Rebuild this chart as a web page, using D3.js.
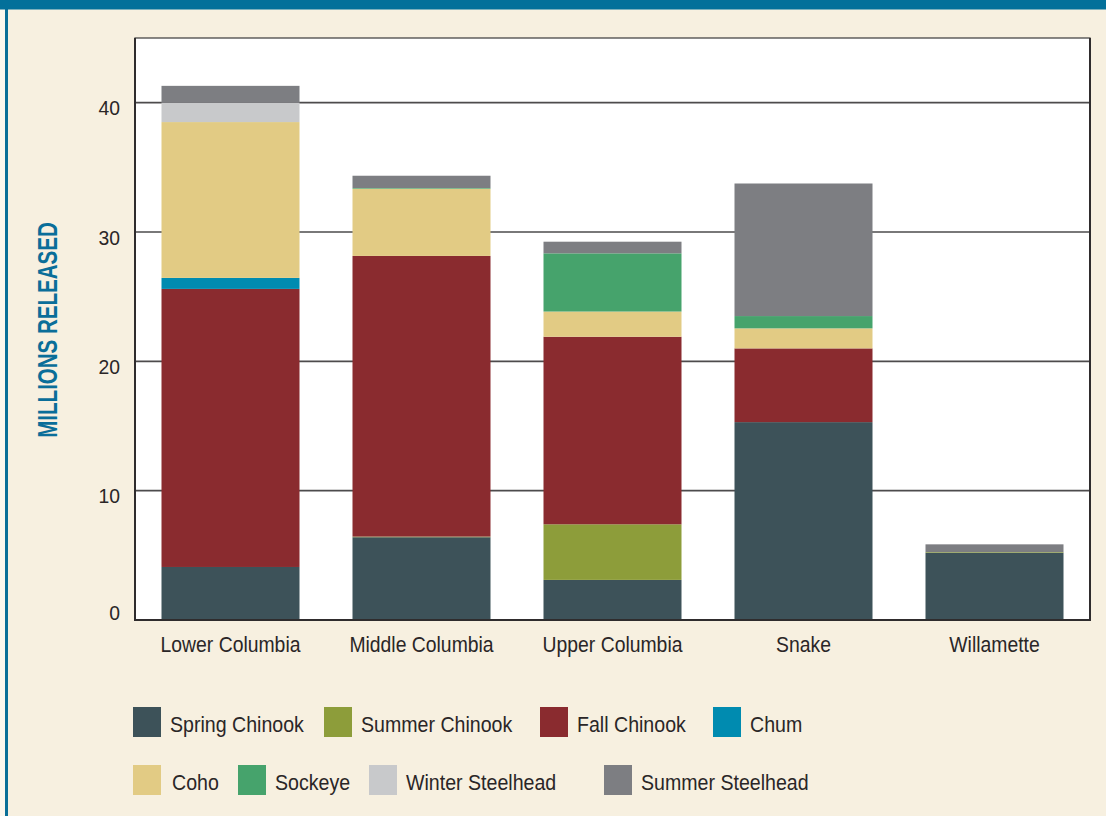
<!DOCTYPE html>
<html>
<head>
<meta charset="utf-8">
<script src="https://cdn.jsdelivr.net/npm/d3@7/dist/d3.min.js"></script>
<style>
  html, body { margin: 0; padding: 0; background: #f7f0e0; }
  svg { display: block; }
  text { font-family: "Liberation Sans", Arial, sans-serif; fill: #2a2627; }
</style>
</head>
<body>
<svg id="chart" width="1106" height="816"></svg>
<script>
// Hatchery releases by region, millions of fish
const regions = ["Lower Columbia", "Middle Columbia", "Upper Columbia", "Snake", "Willamette"];
const runs = ["Spring Chinook", "Summer Chinook", "Fall Chinook", "Chum", "Coho", "Sockeye", "Winter Steelhead", "Summer Steelhead"];
const springChinook   = [4.1, 6.4, 3.1, 15.3, 5.2];
const summerChinook   = [0, 0.05, 4.3, 0, 0.05];
const fallChinook     = [21.5, 21.7, 14.5, 5.7, 0];
const chum            = [0.85, 0, 0, 0, 0];
const coho            = [12.05, 5.2, 1.95, 1.55, 0];
const sockeye         = [0, 0.05, 4.5, 0.95, 0];
const winterSteelhead = [1.5, 0, 0, 0, 0];
const summerSteelhead = [1.3, 0.95, 0.9, 10.25, 0.6];
const tickValues = [0, 10, 20, 30, 40];

const runColors = ["#3d5259", "#8d9d3a", "#8a2b2f", "#008bb0", "#e2cb84", "#46a36c", "#c8c9cb", "#7d7e82"];
const seriesValues = [springChinook, summerChinook, fallChinook, chum, coho, sockeye, winterSteelhead, summerSteelhead];

// legend placement: two rows, [x of swatch, row]
const legendSlots = [[133, 0], [324, 0], [540, 0], [713, 0], [133, 1], [238, 1], [369, 1], [604, 1]];

const svg = d3.select("#chart");
const W = 1106, H = 816;

// squeeze a text node horizontally to imitate a condensed face
function condense(sel, factor) {
  sel.each(function () {
    const len = this.getComputedTextLength();
    d3.select(this)
      .attr("textLength", len * factor)
      .attr("lengthAdjust", "spacingAndGlyphs");
  });
}

// frame
svg.append("rect").attr("x", 0).attr("y", 0).attr("width", W).attr("height", H).attr("fill", "#f7f0e0");
svg.append("rect").attr("x", 0).attr("y", 0).attr("width", 5).attr("height", H).attr("fill", "#fbf7ee");
svg.append("rect").attr("x", 5).attr("y", 0).attr("width", 3).attr("height", H).attr("fill", "#0a6f98");
svg.append("rect").attr("x", 0).attr("y", 0).attr("width", W).attr("height", 9.5).attr("fill", "#03709a");

const plot = { left: 135, right: 1090, top: 38, bottom: 620 };

const x = d3.scaleBand()
  .domain(regions)
  .range([plot.left, plot.right])
  .paddingInner(0.2775)
  .paddingOuter(0.13875);

const y = d3.scaleLinear().domain([0, 45]).range([plot.bottom, plot.top]);

// white plotting field
svg.append("rect")
  .attr("x", plot.left).attr("y", plot.top)
  .attr("width", plot.right - plot.left).attr("height", plot.bottom - plot.top)
  .attr("fill", "#ffffff")
  .attr("stroke", "#3a3a3a").attr("stroke-width", 1.2);

// horizontal gridlines
svg.append("g")
  .selectAll("line")
  .data(tickValues.filter(v => v > 0))
  .join("line")
  .attr("x1", plot.left).attr("x2", plot.right)
  .attr("y1", d => y(d)).attr("y2", d => y(d))
  .attr("stroke", "#4d4b4c").attr("stroke-width", 1.6);

// stacked bars
const table = regions.map((r, i) => {
  const row = { region: r };
  runs.forEach((k, j) => { row[k] = seriesValues[j][i]; });
  return row;
});
const stacked = d3.stack().keys(runs)(table);

svg.append("g")
  .selectAll("g")
  .data(stacked)
  .join("g")
  .attr("fill", (d, i) => runColors[i])
  .selectAll("rect")
  .data(d => d)
  .join("rect")
  .attr("x", d => x(d.data.region))
  .attr("width", x.bandwidth())
  .attr("y", d => y(d[1]))
  .attr("height", d => Math.max(0, y(d[0]) - y(d[1])));

// axis lines on left, bottom, right
svg.append("line").attr("x1", plot.left).attr("x2", plot.left).attr("y1", plot.top).attr("y2", plot.bottom + 1)
  .attr("stroke", "#2f2c2d").attr("stroke-width", 2);
svg.append("line").attr("x1", plot.left).attr("x2", plot.right + 1).attr("y1", plot.bottom).attr("y2", plot.bottom)
  .attr("stroke", "#2f2c2d").attr("stroke-width", 2);
svg.append("line").attr("x1", plot.right).attr("x2", plot.right).attr("y1", plot.top).attr("y2", plot.bottom + 1)
  .attr("stroke", "#2f2c2d").attr("stroke-width", 2);

// y tick labels
const yAxis = svg.append("g")
  .attr("transform", `translate(${plot.left},0)`)
  .call(d3.axisLeft(y).tickValues(tickValues).tickSize(0).tickPadding(15));
yAxis.select(".domain").remove();
yAxis.selectAll("text")
  .style("font-size", "21px")
  .style("font-family", "'Liberation Sans', Arial, sans-serif")
  .attr("fill", "#2a2627")
  .attr("dy", d => d === 0 ? "-1px" : "12px")
  .call(condense, 0.92);

// region labels
const xAxis = svg.append("g")
  .attr("transform", `translate(0,${plot.bottom})`)
  .call(d3.axisBottom(x).tickSize(0).tickPadding(16));
xAxis.select(".domain").remove();
xAxis.selectAll("text")
  .style("font-size", "22px")
  .style("font-family", "'Liberation Sans', Arial, sans-serif")
  .attr("fill", "#2a2627")
  .call(condense, 0.88);

// y title
svg.append("text")
  .attr("transform", "translate(57,330) rotate(-90)")
  .attr("text-anchor", "middle")
  .style("font-size", "27px")
  .style("font-weight", "bold")
  .style("fill", "#0a6e99")
  .text("MILLIONS RELEASED")
  .call(condense, 0.76);

// legend
const legend = svg.append("g");
const rowY = [707, 765];
runs.forEach((name, i) => {
  const [lx, row] = legendSlots[i];
  const g = legend.append("g").attr("transform", `translate(${lx},${rowY[row]})`);
  g.append("rect").attr("width", 28).attr("height", 30).attr("fill", runColors[i]);
  g.append("text")
    .attr("x", name === "Coho" ? 39 : 37)
    .attr("y", 25)
    .style("font-size", "22px")
    .text(name)
    .call(condense, 0.89);
});
</script>
</body>
</html>
